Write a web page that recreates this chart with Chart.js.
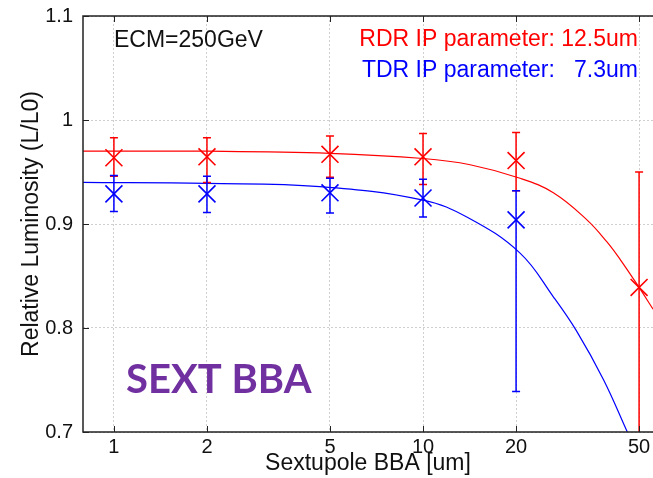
<!DOCTYPE html>
<html>
<head>
<meta charset="utf-8">
<script src="https://cdn.jsdelivr.net/npm/chart.js@4/dist/chart.umd.min.js"></script>
<style>
  html, body { margin: 0; padding: 0; background: #fff; }
  #wrap { width: 653px; height: 478px; }
</style>
</head>
<body>
<div id="wrap"><canvas id="lumi" width="653" height="478"></canvas></div>
<script>
/* --- data --- */
const bbaX = [1, 2, 5, 10, 20, 50];

const rdrY  = [0.9637, 0.9646, 0.967, 0.9646, 0.961, 0.839];
const rdrLo = [0.946, 0.940, 0.945, 0.938, 0.932, 0.69];
const rdrHi = [0.983, 0.983, 0.9845, 0.987, 0.988, 0.950];

const tdrX  = [1, 2, 5, 10, 20];
const tdrY  = [0.929, 0.929, 0.930, 0.925, 0.904];
const tdrLo = [0.912, 0.911, 0.9105, 0.9067, 0.739];
const tdrHi = [0.9466, 0.946, 0.944, 0.943, 0.932];

// fitted curves
const rdrFitX = [0.79, 2, 5, 10, 14.2, 20.6, 26.4, 33.9, 39.3, 43.4, 50, 55.5];
const rdrFitY = [0.970, 0.970, 0.968, 0.963, 0.957, 0.944, 0.930, 0.904, 0.883, 0.866, 0.839, 0.818];
const tdrFitX = [0.79, 2, 4.64, 10, 14, 20.6, 26.4, 31.4, 38.4, 45.8];
const tdrFitY = [0.940, 0.939, 0.936, 0.923, 0.906, 0.872, 0.830, 0.797, 0.750, 0.700];

const xTicks = [1, 2, 5, 10, 20, 50];
const yTicks = [0.7, 0.8, 0.9, 1, 1.1];

const RED = 'rgb(255,0,0)';
const BLUE = 'rgb(0,0,255)';
const FONT = '"Liberation Sans", Arial, Helvetica, sans-serif';

const pts = (xs, ys) => xs.map((x, i) => ({ x, y: ys[i] }));

/* error bars + frame + annotations */
const extras = {
  id: 'extras',
  afterDatasetsDraw(chart) {
    const { ctx, chartArea: a, scales: { x, y } } = chart;
    ctx.save();
    ctx.beginPath();
    ctx.rect(a.left, a.top, a.right - a.left, a.bottom - a.top);
    ctx.clip();
    const bars = [[bbaX, rdrLo, rdrHi, RED], [tdrX, tdrLo, tdrHi, BLUE]];
    bars.forEach(([xs, lo, hi, col]) => {
      ctx.strokeStyle = col;
      ctx.lineWidth = 1.5;
      xs.forEach((v, i) => {
        const px = x.getPixelForValue(v);
        const p1 = y.getPixelForValue(lo[i]);
        const p2 = y.getPixelForValue(hi[i]);
        ctx.beginPath();
        ctx.moveTo(px, p1); ctx.lineTo(px, p2);
        ctx.moveTo(px - 4, p1); ctx.lineTo(px + 4, p1);
        ctx.moveTo(px - 4, p2); ctx.lineTo(px + 4, p2);
        ctx.stroke();
      });
    });
    ctx.restore();
  },
  afterDraw(chart) {
    const { ctx, chartArea: a, scales: { x, y } } = chart;
    ctx.save();
    // frame (right side is cut off in the original)
    ctx.strokeStyle = '#222';
    ctx.lineWidth = 1.5;
    ctx.beginPath();
    ctx.moveTo(a.right, a.top); ctx.lineTo(a.left, a.top);
    ctx.lineTo(a.left, a.bottom); ctx.lineTo(a.right, a.bottom);
    ctx.stroke();
    ctx.lineWidth = 1;
    ctx.beginPath();
    xTicks.forEach(v => {
      const px = Math.round(x.getPixelForValue(v)) + 0.5;
      ctx.moveTo(px, a.bottom); ctx.lineTo(px, a.bottom - 6);
      ctx.moveTo(px, a.top); ctx.lineTo(px, a.top + 6);
    });
    yTicks.forEach(v => {
      const py = Math.round(y.getPixelForValue(v)) + 0.5;
      ctx.moveTo(a.left, py); ctx.lineTo(a.left + 6, py);
    });
    ctx.stroke();

    // text
    ctx.textBaseline = 'alphabetic';
    ctx.font = '23px ' + FONT;
    ctx.fillStyle = '#111';
    ctx.textAlign = 'left';
    ctx.fillText('ECM=250GeV', 114, 47);
    ctx.textAlign = 'right';
    ctx.fillStyle = RED;
    ctx.fillText('RDR IP parameter: 12.5um', 638, 46);
    ctx.fillStyle = BLUE;
    ctx.fillText('TDR IP parameter:   7.3um', 638, 77);

    ctx.textAlign = 'left';
    ctx.fillStyle = '#7030A0';
    ctx.font = 'bold 40px Lato, "Open Sans", sans-serif';
    ctx.fillText('SEXT BBA', 126, 393);
    ctx.restore();
  }
};

new Chart(document.getElementById('lumi'), {
  type: 'line',
  data: {
    datasets: [
      { label: 'RDR fit', data: pts(rdrFitX, rdrFitY), borderColor: RED, borderWidth: 1.2,
        pointRadius: 0, tension: 0.4, fill: false },
      { label: 'TDR fit', data: pts(tdrFitX, tdrFitY), borderColor: BLUE, borderWidth: 1.2,
        pointRadius: 0, tension: 0.4, fill: false },
      { label: 'RDR', data: pts(bbaX, rdrY), showLine: false, pointStyle: 'crossRot',
        pointRadius: 12, pointBorderWidth: 1.6, borderColor: RED, backgroundColor: RED },
      { label: 'TDR', data: pts(tdrX, tdrY), showLine: false, pointStyle: 'crossRot',
        pointRadius: 12, pointBorderWidth: 1.6, borderColor: BLUE, backgroundColor: BLUE }
    ]
  },
  options: {
    responsive: false,
    animation: false,
    layout: { autoPadding: false, padding: { top: 16, left: 0, right: 0, bottom: 0 } },
    plugins: { legend: { display: false }, tooltip: { enabled: false } },
    scales: {
      x: {
        type: 'logarithmic',
        min: 0.7943, max: 55.46,
        afterBuildTicks: s => { s.ticks = xTicks.map(v => ({ value: v })); },
        afterFit: s => { s.height = 46; s.paddingLeft = 0; s.paddingRight = 0; },
        ticks: { color: '#111', font: { family: FONT, size: 20, lineHeight: 1 }, padding: 5,
                 autoSkip: false, maxRotation: 0, callback: v => String(v) },
        grid: { color: '#cfcfcf', lineWidth: 1, drawTicks: false },
        border: { display: false, dash: [2, 2] },
        title: { display: true, text: 'Sextupole BBA [um]', color: '#111',
                 font: { family: FONT, size: 23, lineHeight: 1 }, padding: { top: 0, bottom: 3 } }
      },
      y: {
        min: 0.7, max: 1.1,
        afterBuildTicks: s => { s.ticks = yTicks.map(v => ({ value: v })); },
        afterFit: s => { s.width = 83; s.paddingTop = 0; s.paddingBottom = 0; },
        ticks: { color: '#111', font: { family: FONT, size: 20, lineHeight: 1 }, padding: 10,
                 callback: v => String(v) },
        grid: { color: '#cfcfcf', lineWidth: 1, drawTicks: false },
        border: { display: false, dash: [2, 2] },
        title: { display: true, text: 'Relative Luminosity (L/L0)', color: '#111',
                 font: { family: FONT, size: 23, lineHeight: 1 }, padding: { top: 20, bottom: 0 } }
      }
    }
  },
  plugins: [extras]
});
</script>
</body>
</html>
